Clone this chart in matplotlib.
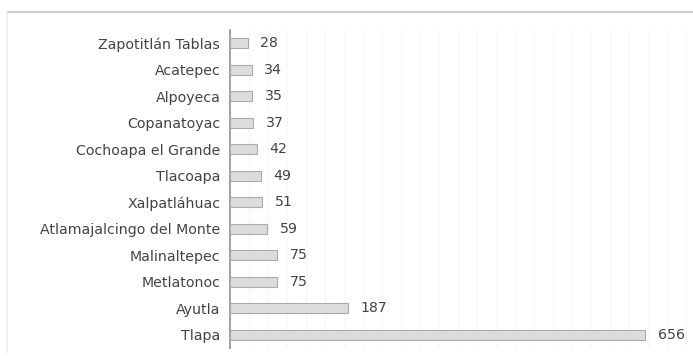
import matplotlib
matplotlib.use("Agg")
import matplotlib.pyplot as plt
from matplotlib.lines import Line2D

categories = ["Zapotitlán Tablas", "Acatepec", "Alpoyeca", "Copanatoyac",
              "Cochoapa el Grande", "Tlacoapa", "Xalpatláhuac",
              "Atlamajalcingo del Monte", "Malinaltepec", "Metlatonoc",
              "Ayutla", "Tlapa"]
values = [28, 34, 35, 37, 42, 49, 51, 59, 75, 75, 187, 656]

fig = plt.figure(figsize=(6.93, 3.56), dpi=100)
fig.patch.set_facecolor("white")

# outer frame
fig.add_artist(Line2D([7/693, 1.0], [1-12/356, 1-12/356], color="#cfcfcf", lw=1.5))
fig.add_artist(Line2D([7/693, 7/693], [1-12/356, 1-352/356], color="#ececec", lw=1.2))

ax = fig.add_axes([230/693, 1-348/356, (690-230)/693, 318/356])
n = len(categories)
ypos = list(range(n))
ax.barh(ypos, values, height=0.38, color="#dcdcdc", edgecolor="#aaaaaa", lw=0.8, zorder=3)
ax.set_ylim(n - 0.5, -0.5)
ax.set_xlim(0, 727)
for x in range(30, 727, 30):
    ax.axvline(x, color="#f7f7f7", lw=1, zorder=0)
ax.set_yticks(ypos)
ax.set_yticklabels(categories, fontsize=10.2, color="#444444")
ax.tick_params(axis="y", length=0, pad=7)
ax.set_xticks([])
for s in ["top", "right", "bottom"]:
    ax.spines[s].set_visible(False)
ax.spines["left"].set_color("#9a9a9a")
ax.spines["left"].set_linewidth(1.3)
for y, v in zip(ypos, values):
    ax.annotate(str(v), (v, y), xytext=(9, 0), textcoords="offset points",
                va="center", ha="left", fontsize=10.2, color="#444444")

fig.savefig("out.png", dpi=100)
